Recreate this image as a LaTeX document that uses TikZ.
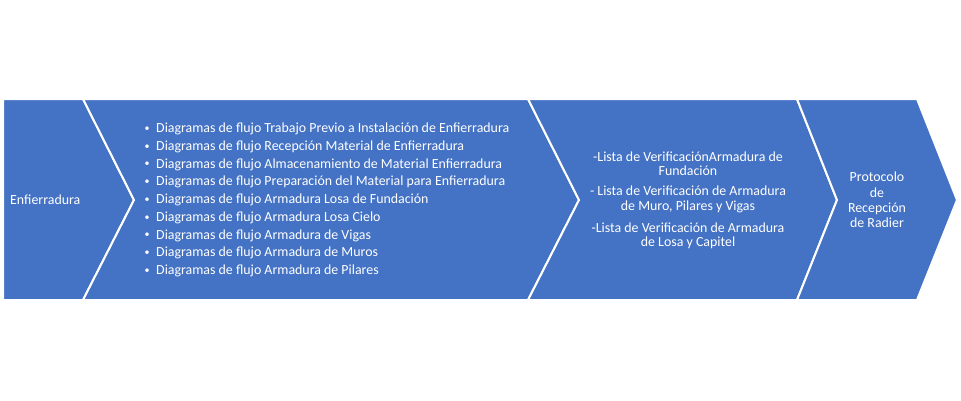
\documentclass[tikz,border=0pt]{standalone}
\usepackage{fontspec}
\setmainfont{Carlito}
\definecolor{chevblue}{HTML}{4472C4}
\tikzset{
  chev/.style={fill=chevblue, draw=white, line width=2pt, line join=miter},
  lbl/.style={text=white, inner sep=0pt, font=\fontsize{13.9}{14.5}\selectfont},
}
\begin{document}
\begin{tikzpicture}[x=1pt,y=-1pt]
  \useasboundingbox (0,0) rectangle (961,400);
  % chevrons
  \draw[chev] (3,99) -- (83,99) -- (134,200) -- (83,300) -- (3,300) -- cycle;
  \draw[chev] (83,99) -- (528,99) -- (579,200) -- (528,300) -- (83,300) -- (134,200) -- cycle;
  \draw[chev] (528,99) -- (797,99) -- (837,200) -- (797,300) -- (528,300) -- (579,200) -- cycle;
  \draw[chev] (797,99) -- (917,99) -- (957,200) -- (917,300) -- (797,300) -- (837,200) -- cycle;
  % texts
  \node[lbl, anchor=west] (enf) at (10,200) {Enfierradura};
  \foreach \txt [count=\i from 0] in {Trabajo Previo a Instalación de Enfierradura,
      Recepción Material de Enfierradura, Almacenamiento de Material Enfierradura,
      Preparación del Material para Enfierradura, Armadura Losa de Fundación,
      Armadura Losa Cielo, Armadura de Vigas, Armadura de Muros, Armadura de Pilares}{
    \node[lbl, font=\fontsize{10}{12}\selectfont] (bul\i) at (147,{129+17.75*\i}) {\textbullet};
    \node[lbl, anchor=west] (dia\i) at (156,{129+17.75*\i}) {Diagramas de flujo \txt};
  }
  \node[lbl, align=center] (lst1) at (688,163.5) {-Lista de VerificaciónArmadura de\\Fundación};
  \node[lbl, align=center] (lst2) at (688,199.5) {- Lista de Verificación de Armadura\\de Muro, Pilares y Vigas};
  \node[lbl, align=center] (lst3) at (688,236) {-Lista de Verificación de Armadura\\de Losa y Capitel};
  \node[lbl, align=center, font=\fontsize{13.9}{15.3}\selectfont] (prot) at (877,200) {Protocolo\\de\\Recepción\\de Radier};
\end{tikzpicture}
\end{document}
